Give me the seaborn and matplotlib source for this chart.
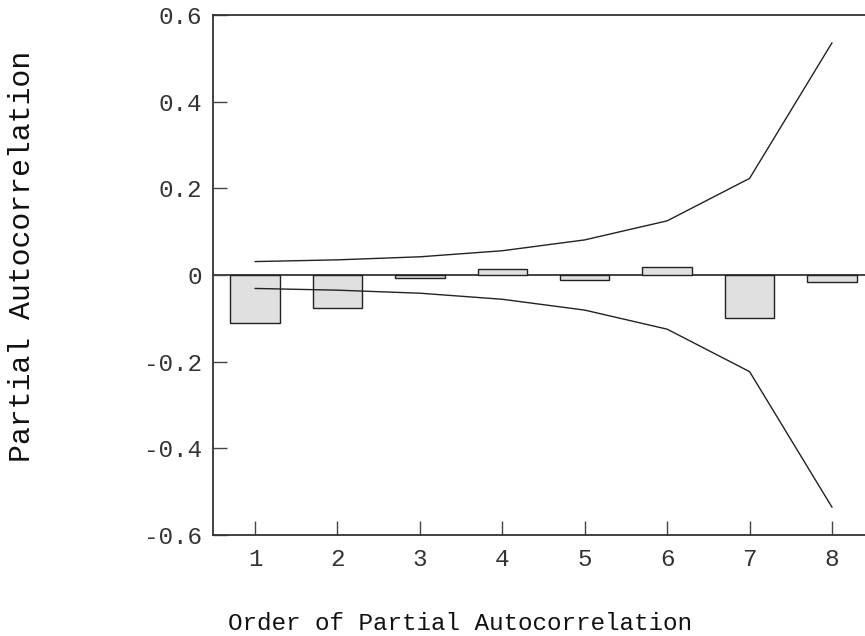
import pandas as pd
import seaborn as sns
import matplotlib.pyplot as plt

# partial autocorrelations by order, with the +/- confidence bounds
orders = [1, 2, 3, 4, 5, 6, 7, 8]
pacf = [-0.110, -0.076, -0.008, 0.015, -0.011, 0.018, -0.100, -0.017]
upper = [0.031, 0.035, 0.042, 0.056, 0.081, 0.125, 0.223, 0.536]
lower = [-0.031, -0.035, -0.042, -0.056, -0.081, -0.125, -0.223, -0.536]
yticks = [-0.6, -0.4, -0.2, 0, 0.2, 0.4, 0.6]
ytick_labels = ['-0.6', '-0.4', '-0.2', '0', '0.2', '0.4', '0.6']

df = pd.DataFrame({'order': orders, 'pacf': pacf, 'upper': upper, 'lower': lower})

sns.set_theme(style='white')
plt.rcParams['font.family'] = ['Liberation Mono', 'DejaVu Sans Mono']

fig = plt.figure(figsize=(8.65, 6.36), dpi=100)
ax = fig.add_axes([0.2462, 0.1588, 0.7538, 0.8176])

sns.barplot(data=df, x='order', y='pacf', native_scale=True, width=0.6,
            color='#e0e0e0', edgecolor='#222222', linewidth=1.0, saturation=1, ax=ax)
sns.lineplot(data=df, x='order', y='upper', color='#222222', linewidth=1.0, ax=ax)
sns.lineplot(data=df, x='order', y='lower', color='#222222', linewidth=1.0, ax=ax)
ax.axhline(0, color='#111111', linewidth=1.1, zorder=0.5)

ax.set_xlim(0.49, 8.40)
ax.set_ylim(-0.6, 0.6)
ax.set_xticks(orders)
ax.set_xticklabels([str(o) for o in orders])
ax.set_yticks(yticks)
ax.set_yticklabels(ytick_labels)

for side in ['left', 'bottom', 'top']:
    ax.spines[side].set_visible(True)
    ax.spines[side].set_color('#333333')
    ax.spines[side].set_linewidth(1.3)
ax.spines['right'].set_visible(False)

ax.tick_params(axis='both', direction='in', length=10, width=1.0, color='#444444',
               labelsize=17.5, labelcolor='#333333')
ax.tick_params(axis='x', pad=9, bottom=True)
ax.tick_params(axis='y', pad=8, left=True)

ax.set_xlabel('Order of Partial Autocorrelation', fontsize=17.5, color='#111111')
ax.set_ylabel('Partial Autocorrelation', fontsize=21.5, color='#111111')
ax.xaxis.set_label_coords(0.379, -0.148)
ax.yaxis.set_label_coords(-0.272, 0.536)

fig.savefig('out.png', dpi=100)
